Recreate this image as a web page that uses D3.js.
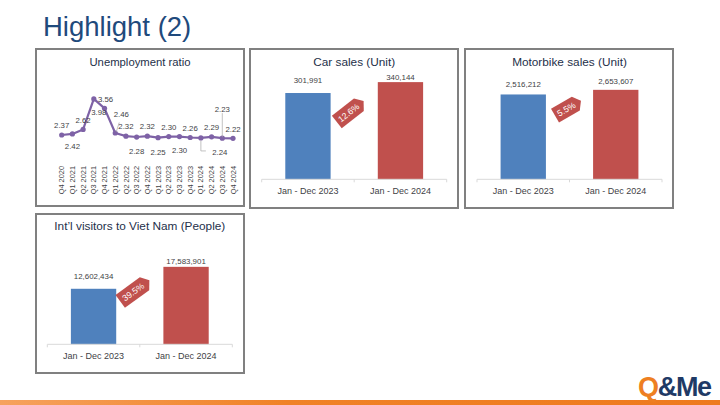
<!DOCTYPE html>
<html><head><meta charset="utf-8">
<script src="https://cdn.jsdelivr.net/npm/d3@7/dist/d3.min.js"></script>
<style>
html,body{margin:0;padding:0;background:#fff;}
svg{display:block;font-family:"Liberation Sans",Arial,sans-serif;}
</style></head>
<body>
<svg id="c" width="720" height="405"></svg>
<script>
// ---- data ----
const quarters = ["Q4 2020","Q1 2021","Q2 2021","Q3 2021","Q4 2021","Q1 2022","Q2 2022","Q3 2022","Q4 2022","Q1 2023","Q2 2023","Q3 2023","Q4 2023","Q1 2024","Q2 2024","Q3 2024","Q4 2024"];
const unemployment = [2.37,2.42,2.62,3.98,3.56,2.46,2.32,2.28,2.32,2.25,2.30,2.30,2.26,2.24,2.29,2.23,2.22];
const periods = ["Jan - Dec 2023","Jan - Dec 2024"];
const carSales = [301991,340144];
const motorbikeSales = [2516212,2653607];
const visitors = [12602434,17583901];
const carGrowth = "12.6%";
const motorbikeGrowth = "5.5%";
const visitorGrowth = "39.5%";

// ---- layout / style ----
const svg = d3.select("#c");
const BLUE = "#4F81BD", RED = "#C0504D", PURPLE = "#7E62A6";
const TITLE_C = "#25304A", LABEL_C = "#3F3F46";

// page title
svg.append("text").attr("x",43).attr("y",36).attr("font-size",27.5)
  .attr("fill","#1F4A7C").text("Highlight (2)");

// panel boxes
const boxes = [[36,49,208,157],[250,49,208,159],[465,49,208,159],[36,214,208,159]];
svg.selectAll("rect.box").data(boxes).enter().append("rect")
  .attr("x",d=>d[0]).attr("y",d=>d[1]).attr("width",d=>d[2]).attr("height",d=>d[3])
  .attr("fill","none").attr("stroke","#808080").attr("stroke-width",2);

// ---- line chart ----
(function(){
  const g = svg.append("g");
  g.append("text").attr("x",140).attr("y",62).attr("dy","0.35em").attr("text-anchor","middle")
    .attr("font-size",11.3).attr("fill",TITLE_C).text("Unemployment ratio");
  const x = d3.scalePoint().domain(quarters).range([61.7,233]);
  const y = d3.scaleLinear().domain([1,4.5]).range([165.7,87.3]);
  const line = d3.line().x((d,i)=>x(quarters[i])).y(d=>y(d));
  g.append("path").datum(unemployment).attr("d",line).attr("fill","none")
    .attr("stroke",PURPLE).attr("stroke-width",2.2).attr("stroke-linejoin","round");
  g.selectAll("circle").data(unemployment).enter().append("circle")
    .attr("cx",(d,i)=>x(quarters[i])).attr("cy",d=>y(d)).attr("r",2.6).attr("fill",PURPLE);
  // label placement: [dx, dy] of label centre relative to the point
  const place = [[0,-9.3],[0,12.7],[0,-9.5],[5,13.7],[1,-9.4],[6,-19],[0,-9.5],[0,14.5],[0,-9.5],[0,14.5],[0,-9.5],[0,14],[0,-9],[19,14],[0,-9.5],[0,-29],[0,-9.4]];
  g.selectAll("text.v").data(unemployment).enter().append("text")
    .attr("x",(d,i)=>x(quarters[i])+place[i][0]).attr("y",(d,i)=>y(d)+place[i][1])
    .attr("dy","0.35em").attr("text-anchor","middle").attr("font-size",7.8).attr("fill",LABEL_C)
    .text(d=>d.toFixed(2));
  // leader lines
  const lead = g.append("g").attr("stroke","#A6A6A6").attr("stroke-width",0.7).attr("fill","none");
  const p5x = x(quarters[5]), p5y = y(unemployment[5]);
  lead.append("path").attr("d",`M${p5x+4},${p5y-10.5}L${p5x+1},${p5y-1}`);
  const p13x = x(quarters[13]), p13y = y(unemployment[13]);
  lead.append("path").attr("d",`M${p13x},${p13y+2.5}V${p13y+13}H${p13x+5}`);
  const p15x = x(quarters[15]), p15y = y(unemployment[15]);
  lead.append("path").attr("d",`M${p15x},${p15y-25}V${p15y-1}`);
  // rotated category labels
  g.selectAll("text.q").data(quarters).enter().append("text")
    .attr("transform",d=>`translate(${x(d)+2.6},166) rotate(-90)`)
    .attr("text-anchor","end").attr("font-size",7.4).attr("fill",LABEL_C).text(d=>d);
})();

// ---- bar charts ----
function barPanel(cfg){
  const g = svg.append("g");
  g.append("text").attr("x",(cfg.ax[0]+cfg.ax[1])/2).attr("y",cfg.titleY).attr("dy","0.35em")
    .attr("text-anchor","middle").attr("font-size",11.8).attr("fill",TITLE_C).text(cfg.title);
  const x = d3.scaleBand().domain(periods).range(cfg.ax).paddingInner(0.51).paddingOuter(0.255);
  const y = d3.scaleLinear().domain([0,cfg.max]).range([cfg.base,cfg.base-100]);
  g.selectAll("rect").data(cfg.values).enter().append("rect")
    .attr("x",(d,i)=>x(periods[i])).attr("width",x.bandwidth())
    .attr("y",d=>y(d)).attr("height",d=>cfg.base-y(d))
    .attr("fill",(d,i)=>i===0?BLUE:RED);
  g.selectAll("text.v").data(cfg.values).enter().append("text")
    .attr("x",(d,i)=>x(periods[i])+x.bandwidth()/2).attr("y",(d,i)=>y(d)-cfg.gap[i])
    .attr("dy","0.35em").attr("text-anchor","middle").attr("font-size",7.9).attr("fill",LABEL_C)
    .text(d=>d3.format(",")(d));
  // axis
  const axG = g.append("g").attr("stroke","#D9D9D9").attr("stroke-width",1);
  axG.append("line").attr("x1",cfg.ax[0]).attr("x2",cfg.ax[1]).attr("y1",cfg.base).attr("y2",cfg.base);
  const step = (cfg.ax[1]-cfg.ax[0])/periods.length;
  d3.range(periods.length+1).forEach(i=>{
    axG.append("line").attr("x1",cfg.ax[0]+i*step).attr("x2",cfg.ax[0]+i*step)
      .attr("y1",cfg.base).attr("y2",cfg.base+3);
  });
  g.selectAll("text.c").data(periods).enter().append("text")
    .attr("x",d=>x(d)+x.bandwidth()/2).attr("y",cfg.base+11.4).attr("dy","0.35em")
    .attr("text-anchor","middle").attr("font-size",9).attr("fill",LABEL_C).text(d=>d);
  // growth badge
  const mid = (x(periods[0])+x(periods[1])+x.bandwidth())/2;
  const by = y(d3.mean(cfg.values))+cfg.badgeDy;
  const bg = g.append("g").attr("transform",`translate(${mid+cfg.badgeDx},${by}) rotate(${cfg.rot})`);
  const w = cfg.bw, h = 16;
  bg.append("path").attr("d",`M${-w/2},${-h/2}H${w/2-6}L${w/2},0L${w/2-6},${h/2}H${-w/2}Z`).attr("fill",RED);
  bg.append("text").attr("x",-2).attr("y",0).attr("dy","0.35em").attr("text-anchor","middle")
    .attr("font-size",8.6).attr("fill","#fff").text(cfg.growth);
}
barPanel({title:"Car sales (Unit)",values:carSales,growth:carGrowth,ax:[261.7,446.7],base:179.3,max:350000,titleY:61.7,gap:[12.3,4.6],badgeDx:-4,badgeDy:24,rot:-38,bw:34});
barPanel({title:"Motorbike sales (Unit)",values:motorbikeSales,growth:motorbikeGrowth,ax:[477,662],base:179.3,max:2966000,titleY:61.7,gap:[10,8.6],badgeDx:-1.5,badgeDy:16,rot:-30,bw:30});
barPanel({title:"Int’l visitors to Viet Nam (People)",values:visitors,growth:visitorGrowth,ax:[47.3,232.3],base:344.3,max:22700000,titleY:226,gap:[12.3,5.7],badgeDx:-5,badgeDy:13,rot:-36,bw:36});

// ---- footer ----
const grad = svg.append("defs").append("linearGradient").attr("id","og");
grad.append("stop").attr("offset","0").attr("stop-color","#F6A25E");
grad.append("stop").attr("offset","0.4").attr("stop-color","#F08227");
grad.append("stop").attr("offset","1").attr("stop-color","#EE7A1E");
svg.append("rect").attr("x",0).attr("y",400).attr("width",720).attr("height",5).attr("fill","url(#og)");
const logo = svg.append("text").attr("x",638).attr("y",396).attr("font-size",27)
  .attr("font-weight","bold").attr("letter-spacing",-1.3);
logo.append("tspan").attr("fill","#EE7F22").text("Q");
logo.append("tspan").attr("fill","#1F3A66").text("&Me");
</script>
</body></html>
